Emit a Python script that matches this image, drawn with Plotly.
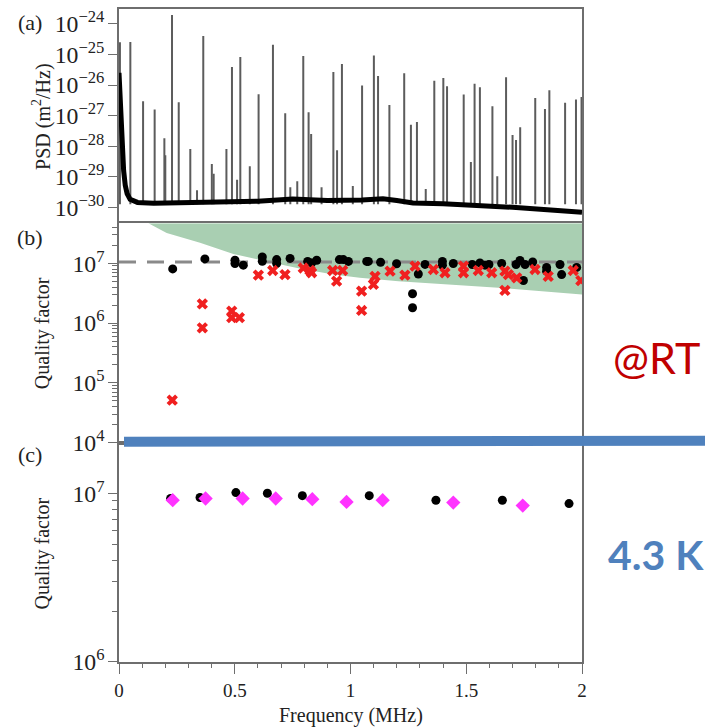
import plotly.graph_objects as go

# ---------------- data ----------------
# (a) PSD noise floor: frequency (MHz) and log10 PSD (m^2/Hz)
floor_f = [0.0, 0.006, 0.013, 0.02, 0.027, 0.035, 0.048, 0.08, 0.15, 0.3, 0.45, 0.6, 0.75, 0.9,
           1.05, 1.14, 1.2, 1.27, 1.4, 1.53, 1.7, 1.85, 2.0]
floor_log = [-25.6, -26.9, -28.1, -28.8, -29.28, -29.55, -29.74, -29.84, -29.87, -29.85, -29.82,
             -29.8, -29.73, -29.78, -29.76, -29.72, -29.78, -29.86, -29.88, -29.92, -30.0, -30.08, -30.16]

# (a) resonance peaks: frequency (MHz) and peak log10 PSD
peak_f = [0.004, 0.049, 0.104, 0.154, 0.196, 0.200, 0.229, 0.258, 0.308, 0.337, 0.364, 0.401,
          0.409, 0.464, 0.488, 0.510, 0.524, 0.565, 0.603, 0.665, 0.718, 0.740, 0.770, 0.796,
          0.819, 0.830, 0.875, 0.926, 0.942, 0.963, 1.010, 1.050, 1.101, 1.119, 1.168, 1.232,
          1.261, 1.287, 1.325, 1.362, 1.401, 1.417, 1.489, 1.520, 1.536, 1.559, 1.613, 1.634,
          1.672, 1.700, 1.715, 1.733, 1.798, 1.840, 1.859, 1.927, 1.974, 1.998]
peak_log = [-24.6, -24.59, -26.53, -26.8, -27.74, -28.3, -23.71, -26.56, -28.09, -29.44, -24.39, -28.58,
            -28.9, -28.09, -25.41, -29.1, -25.08, -28.66, -26.3, -24.68, -26.92, -29.34, -29.15, -25.05,
            -26.89, -27.6, -29.34, -25.57, -28.13, -25.31, -29.3, -26.01, -25.03, -25.70, -26.65, -25.61,
            -27.30, -27.21, -29.4, -25.86, -25.77, -26.04, -26.31, -28.52, -25.96, -26.07, -26.69, -28.98,
            -25.74, -27.63, -27.8, -27.38, -26.42, -26.78, -26.17, -26.58, -26.47, -26.39]
peak_base_log = -29.9

# (b) room temperature quality factors (log10 Q)
rt_black_f = [0.232, 0.371, 0.501, 0.501, 0.537, 0.619, 0.619, 0.681, 0.681, 0.739, 0.815, 0.832,
              0.854, 0.952, 0.969, 0.991, 1.07, 1.077, 1.13, 1.199, 1.268, 1.268, 1.293, 1.322,
              1.397, 1.397, 1.444, 1.526, 1.559, 1.581, 1.598, 1.653, 1.715, 1.732, 1.747, 1.754,
              1.787, 1.847, 1.847, 1.905, 1.912, 1.977]
rt_black_log = [6.905, 7.072, 7.05, 6.995, 6.967, 7.105, 7.033, 7.06, 6.995, 7.08, 7.03, 7.005,
                7.05, 7.06, 7.06, 7.03, 7.03, 7.03, 7.017, 6.99, 6.49, 6.255, 6.82, 6.98,
                7.03, 6.967, 6.995, 6.978, 7.005, 6.967, 6.978, 6.995, 6.978, 7.045, 6.71, 6.978,
                7.02, 6.93, 6.867, 6.978, 6.81, 6.93]
rt_red_f = [0.23, 0.36, 0.36, 0.487, 0.487, 0.52, 0.602, 0.664, 0.717, 0.796, 0.825, 0.832,
            0.923, 0.94, 0.966, 1.048, 1.048, 1.099, 1.106, 1.171, 1.235, 1.279, 1.358, 1.408,
            1.488, 1.488, 1.552, 1.61, 1.667, 1.667, 1.682, 1.718, 1.797, 1.854, 1.962, 1.995]
rt_red_log = [4.71, 6.32, 5.92, 6.2, 6.09, 6.09, 6.8, 6.878, 6.81, 6.92, 6.88, 6.84,
              6.878, 6.70, 6.878, 6.533, 6.21, 6.645, 6.78, 6.867, 6.80, 6.95, 6.895, 6.84,
              6.95, 6.84, 6.878, 6.84, 6.867, 6.545, 6.81, 6.755, 6.895, 6.78, 6.878, 6.71]
dashed_f = [0.0, 2.0]
dashed_q = [1.05e7, 1.05e7]
# green region lower boundary
band_f = [0.127, 0.206, 0.35, 0.494, 0.638, 0.78, 0.926, 1.04, 1.207, 1.639, 2.0]
band_log = [7.67, 7.505, 7.34, 7.155, 7.03, 6.91, 6.81, 6.755, 6.70, 6.59, 6.478]
band_top_log = 7.67

# (c) 4.3 K quality factors (log10 Q)
lt_black_f = [0.223, 0.35, 0.505, 0.641, 0.792, 1.081, 1.369, 1.656, 1.944]
lt_black_log = [6.969, 6.975, 7.004, 7.0, 6.986, 6.986, 6.959, 6.959, 6.939]
lt_mag_f = [0.232, 0.374, 0.534, 0.677, 0.835, 0.983, 1.139, 1.444, 1.744]
lt_mag_log = [6.959, 6.969, 6.969, 6.969, 6.965, 6.949, 6.959, 6.945, 6.927]

x_ticks = [0, 0.5, 1, 1.5, 2]
x_tick_text = ["0", "0.5", "1", "1.5", "2"]

# ---------------- figure ----------------
SERIF = "Liberation Serif"
fig = go.Figure()

# (a) spikes
sx, sy = [], []
for f, p in zip(peak_f, peak_log):
    sx += [f, f, None]
    sy += [10 ** peak_base_log, 10 ** p, None]
fig.add_trace(go.Scatter(x=sx, y=sy, mode="lines", line=dict(color="#5c5c5c", width=2),
                         xaxis="x", yaxis="y", showlegend=False, hoverinfo="skip"))
fig.add_trace(go.Scatter(x=floor_f, y=[10 ** v for v in floor_log], mode="lines",
                         line=dict(color="black", width=5), xaxis="x", yaxis="y", showlegend=False))

# (b) green region
gx = band_f + [band_f[-1], band_f[0]]
gy = [10 ** v for v in band_log] + [10 ** band_top_log, 10 ** band_top_log]
fig.add_trace(go.Scatter(x=gx, y=gy, mode="lines", fill="toself", fillcolor="#a9cfb2",
                         line=dict(width=0, color="#a9cfb2"), xaxis="x2", yaxis="y2", showlegend=False))
fig.add_trace(go.Scatter(x=dashed_f, y=dashed_q, mode="lines",
                         line=dict(color="#8a8a8a", width=3, dash="17px,11px"),
                         xaxis="x2", yaxis="y2", showlegend=False))
fig.add_trace(go.Scatter(x=rt_black_f, y=[10 ** v for v in rt_black_log], mode="markers",
                         marker=dict(symbol="circle", size=9, color="black"),
                         xaxis="x2", yaxis="y2", showlegend=False))
fig.add_trace(go.Scatter(x=rt_red_f, y=[10 ** v for v in rt_red_log], mode="markers",
                         marker=dict(symbol="x", size=10, color="#f02020", line=dict(width=0)),
                         xaxis="x2", yaxis="y2", showlegend=False))

# (c)
fig.add_trace(go.Scatter(x=lt_black_f, y=[10 ** v for v in lt_black_log], mode="markers",
                         marker=dict(symbol="circle", size=9, color="black"),
                         xaxis="x3", yaxis="y3", showlegend=False))
fig.add_trace(go.Scatter(x=lt_mag_f, y=[10 ** v for v in lt_mag_log], mode="markers",
                         marker=dict(symbol="diamond", size=11, color="#ff33ff"),
                         xaxis="x3", yaxis="y3", showlegend=False))

axis_common = dict(showline=True, linecolor="#6e6e6e", linewidth=1.5, mirror=True,
                   showgrid=False, zeroline=False)
tickfont = dict(family=SERIF, size=19, color="#222")

fig.update_layout(
    width=716, height=728,
    margin=dict(l=119, r=134, t=7, b=66),
    paper_bgcolor="white", plot_bgcolor="white",
    xaxis=dict(domain=[0, 1], range=[0, 2], anchor="y", showticklabels=False, ticks="", **axis_common),
    yaxis=dict(domain=[0.6748, 1.0], type="log", range=[-30.46, -23.51], dtick=1,
               exponentformat="power", ticks="outside", ticklen=9, tickcolor="#6e6e6e",
               tickfont=tickfont, anchor="x", **axis_common),
    xaxis2=dict(domain=[0, 1], range=[0, 2], anchor="y2", showticklabels=False, ticks="", **axis_common),
    yaxis2=dict(domain=[0.3359, 0.6718], type="log", range=[4, 7.667], dtick=1,
                exponentformat="power", ticks="outside", ticklen=9, tickcolor="#6e6e6e",
                tickfont=tickfont, anchor="x2",
                minor=dict(ticks="outside", ticklen=5, dtick="D1", tickcolor="#6e6e6e"),
                **axis_common),
    xaxis3=dict(domain=[0, 1], range=[0, 2], anchor="y3", tickvals=x_ticks, ticktext=x_tick_text,
                ticks="outside", ticklen=10, tickcolor="#6e6e6e", tickfont=tickfont,
                minor=dict(ticks="outside", ticklen=4, dtick=0.1, tickcolor="#6e6e6e"),
                **axis_common),
    yaxis3=dict(domain=[0, 0.3359], type="log", range=[6, 7.30], dtick=1,
                exponentformat="power", ticks="outside", ticklen=9, tickcolor="#6e6e6e",
                tickfont=tickfont, anchor="x3",
                minor=dict(ticks="outside", ticklen=5, dtick="D1", tickcolor="#6e6e6e"),
                **axis_common),
)

ann = []
def lab(text, x, y, size=20, angle=0, color="#222", family=SERIF, bold=False):
    ann.append(dict(text=("<b>%s</b>" % text) if bold else text, x=x, y=y, xref="paper", yref="paper",
                    xanchor="center", yanchor="middle", showarrow=False, textangle=angle,
                    font=dict(family=family, size=size, color=color)))

lab("(a)", -0.192, 0.9786, size=22)
lab("(b)", -0.192, 0.6504, size=22)
lab("(c)", -0.192, 0.3176, size=22)
lab("PSD (m<sup>2</sup>/Hz)", -0.166, 0.835, angle=-90)
lab("Quality factor", -0.166, 0.5038, angle=-90)
lab("Quality factor", -0.166, 0.1664, angle=-90)
lab("Frequency (MHz)", 0.501, -0.0824)
lab("@RT", 1.16, 0.4656, size=43, color="#c00000", family="Lato")
lab("4.3 K", 1.16, 0.1649, size=41, color="#4f81bd", family="Lato", bold=True)
fig.update_layout(annotations=ann)

fig.add_shape(type="line", xref="paper", yref="paper", x0=0.0108, y0=0.3374, x1=1.2657, y1=0.3389,
              line=dict(color="#4f81bd", width=10))

fig.write_html("out.html")
